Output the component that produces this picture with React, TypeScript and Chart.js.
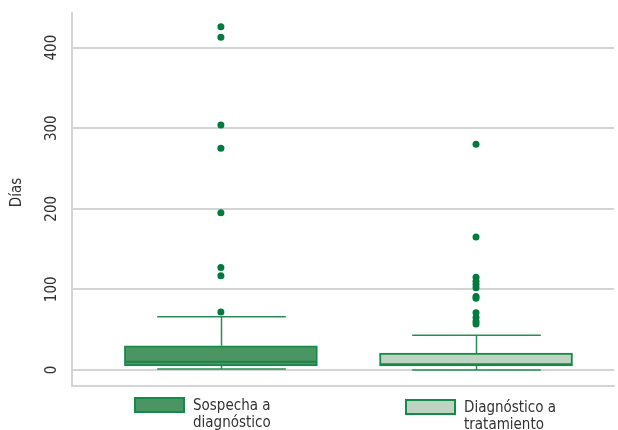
import React, { useEffect, useRef } from 'react';
import { Chart, registerables } from 'chart.js';

Chart.register(...registerables);

// ---- data ----
const categories = ['Sospecha a diagnóstico', 'Diagnóstico a tratamiento'];
const legendLines = [
  ['Sospecha a', 'diagnóstico'],
  ['Diagnóstico a', 'tratamiento'],
];
const positions = [1, 2];
const q1 = [5, 5];
const median = [10, 7];
const q3 = [30, 21];
const whiskerLow = [1, 0];
const whiskerHigh = [66, 43];
const outliers1 = [426, 413, 304, 275, 195, 127, 117, 72];
const outliers2 = [280, 165, 115, 110, 106, 102, 91, 89, 71, 65, 60, 57];
const yTicks = [0, 100, 200, 300, 400];
const yTitle = 'Días';

// ---- styles ----
const FONT = '"DejaVu Sans Condensed", "Liberation Sans Narrow", sans-serif';
const boxFill = ['#4b9563', '#bed3c1'];
const boxBorder = '#168a48';
const medianColor = ['#237f49', '#168a48'];
const whiskerColor = '#2b8d55';
const outlierColor = '#007a3d';
const gridColor = '#d4d4d4';
const textColor = '#333333';
const legendX = [134, 405];
const legendY = [397, 399];

const extrasPlugin = {
  id: 'boxExtras',
  beforeDatasetsDraw(chart: any) {
    const { ctx } = chart;
    const x = chart.scales.x;
    const y = chart.scales.y;
    const bars = chart.getDatasetMeta(1).data;
    ctx.save();
    ctx.strokeStyle = whiskerColor;
    ctx.lineWidth = 1.5;
    positions.forEach((p, i) => {
      const cx = Math.round(x.getPixelForValue(p)) + 0.5;
      const half = (bars[i].width * 2) / 3 / 2;
      const yTop = y.getPixelForValue(q3[i]);
      const yHi = y.getPixelForValue(whiskerHigh[i]);
      const yBot = y.getPixelForValue(q1[i]);
      const yLo = y.getPixelForValue(whiskerLow[i]);
      ctx.beginPath();
      ctx.moveTo(cx, yTop);
      ctx.lineTo(cx, yHi);
      ctx.moveTo(cx - half, yHi);
      ctx.lineTo(cx + half, yHi);
      ctx.moveTo(cx, yBot);
      ctx.lineTo(cx, yLo);
      ctx.moveTo(cx - half, yLo);
      ctx.lineTo(cx + half, yLo);
      ctx.stroke();
    });
    ctx.restore();
  },
  afterDatasetsDraw(chart: any) {
    const { ctx } = chart;
    const y = chart.scales.y;
    const bars = chart.getDatasetMeta(1).data;
    ctx.save();
    ctx.lineWidth = 2;
    positions.forEach((p, i) => {
      const b = bars[i];
      const ym = y.getPixelForValue(median[i]);
      ctx.strokeStyle = medianColor[i];
      ctx.beginPath();
      ctx.moveTo(b.x - b.width / 2 + 1, ym);
      ctx.lineTo(b.x + b.width / 2 - 1, ym);
      ctx.stroke();
    });
    ctx.restore();
  },
  afterDraw(chart: any) {
    const { ctx, chartArea } = chart;
    const y = chart.scales.y;
    ctx.save();
    ctx.fillStyle = textColor;
    // y tick labels (rotated)
    ctx.font = `15px ${FONT}`;
    ctx.textAlign = 'center';
    ctx.textBaseline = 'middle';
    yTicks.forEach((v) => {
      const py = y.getPixelForValue(v);
      ctx.save();
      ctx.translate(52, py);
      ctx.rotate(-Math.PI / 2);
      ctx.fillText(String(v), 0, 0);
      ctx.restore();
    });
    // y title
    ctx.font = `15px ${FONT}`;
    ctx.save();
    ctx.translate(17, (chartArea.top + chartArea.bottom) / 2 - 7);
    ctx.rotate(-Math.PI / 2);
    ctx.fillText(yTitle, 0, 0);
    ctx.restore();
    // legend
    ctx.textAlign = 'left';
    ctx.textBaseline = 'alphabetic';
    legendLines.forEach((lines, i) => {
      const lx = legendX[i];
      const ly = legendY[i];
      ctx.fillStyle = boxFill[i];
      ctx.fillRect(lx, ly, 51, 16);
      ctx.strokeStyle = boxBorder;
      ctx.lineWidth = 2;
      ctx.strokeRect(lx + 1, ly + 1, 49, 14);
      ctx.fillStyle = textColor;
      lines.forEach((t, j) => {
        ctx.fillText(t, lx + 59, ly + 13 + j * 16.5);
      });
    });
    ctx.restore();
  },
};

export default function App() {
  const ref = useRef<HTMLCanvasElement | null>(null);
  useEffect(() => {
    if (!ref.current) return;
    const outlierData = [
      ...outliers1.map((v) => ({ x: positions[0], y: v })),
      ...outliers2.map((v) => ({ x: positions[1], y: v })),
    ];
    const chart = new Chart(ref.current, {
      type: 'bar',
      data: {
        datasets: [
          {
            type: 'scatter',
            label: 'outliers',
            data: outlierData,
            pointRadius: 3.5,
            pointBackgroundColor: outlierColor,
            pointBorderWidth: 0,
            borderWidth: 0,
          } as any,
          {
            type: 'bar',
            label: 'box',
            data: positions.map((p, i) => ({ x: p, y: [q1[i], q3[i]] })),
            backgroundColor: boxFill,
            borderColor: boxBorder,
            borderWidth: 2,
            borderSkipped: false,
            barThickness: 193,
          } as any,
        ],
      },
      options: {
        animation: false,
        responsive: false,
        maintainAspectRatio: false,
        devicePixelRatio: 1,
        layout: { padding: { left: 72, top: 13, right: 0, bottom: 44 } },
        plugins: { legend: { display: false }, tooltip: { enabled: false } },
        scales: {
          x: {
            type: 'linear',
            min: 0.4163,
            max: 2.5409,
            offset: false,
            grid: { display: false, drawTicks: false },
            ticks: { display: false },
            border: { display: true, color: gridColor, width: 2 },
          },
          y: {
            type: 'linear',
            min: -20,
            max: 443,
            grid: { color: gridColor, lineWidth: 2, drawTicks: false },
            ticks: { display: false },
            border: { display: true, color: gridColor, width: 2 },
            afterBuildTicks: (scale: any) => {
              scale.ticks = yTicks.map((v) => ({ value: v }));
            },
          },
        },
      },
      plugins: [extrasPlugin],
    } as any);
    return () => chart.destroy();
  }, []);
  return (
    <div style={{ position: 'fixed', left: 0, top: 0, width: 618, height: 430, background: '#fff' }}>
      <canvas
        ref={ref}
        width={618}
        height={430}
        style={{ width: 618, height: 430, display: 'block' }}
        aria-label={categories.join(', ')}
      />
    </div>
  );
}
